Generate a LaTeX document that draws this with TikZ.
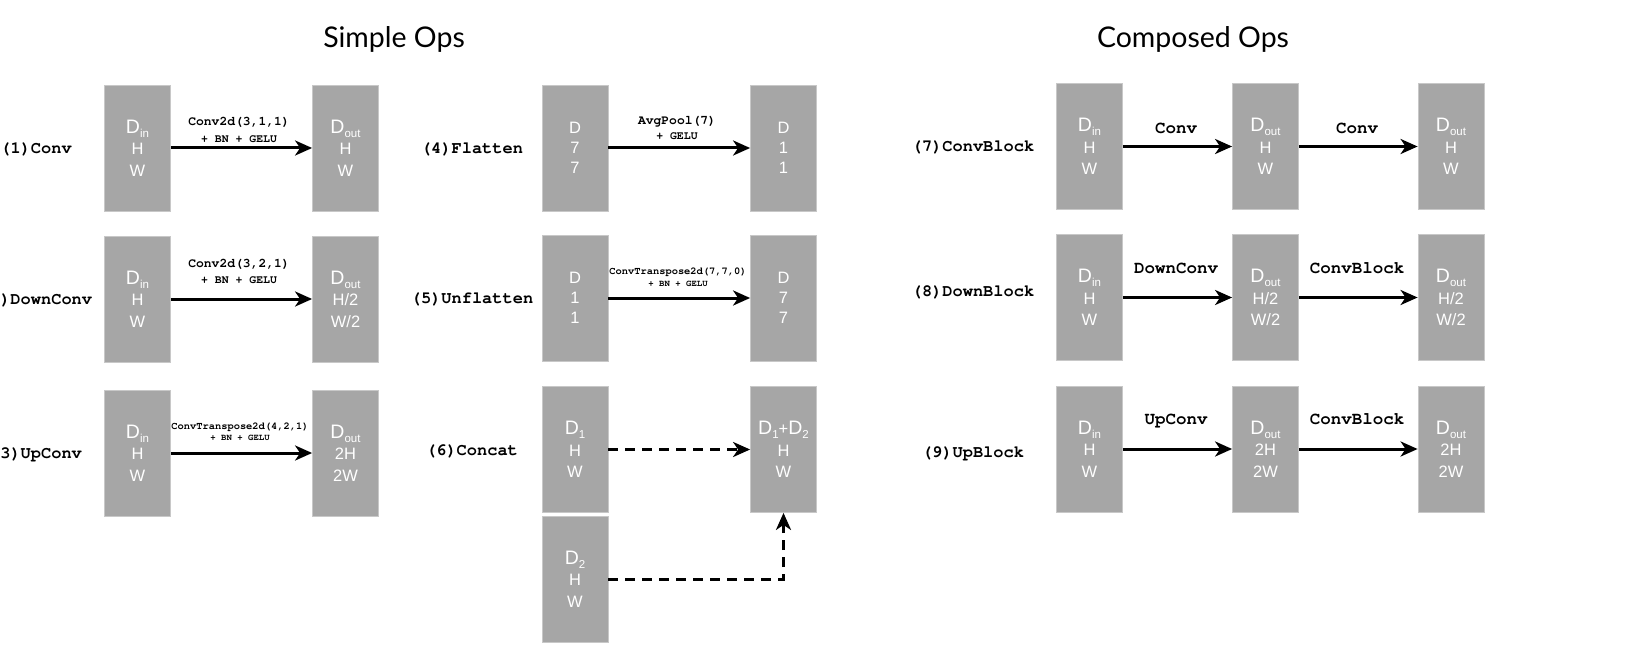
\documentclass[tikz,border=0pt]{standalone}
\usepackage[T1]{fontenc}
\usepackage{fontspec}
\setmainfont{Liberation Sans}
\newfontfamily\titlefont{Lato}
\usetikzlibrary{arrows.meta}
\definecolor{boxgray}{RGB}{166,166,166}
\definecolor{boxedge}{RGB}{200,200,200}
\newcommand\cour[2]{\fontencoding{T1}\fontfamily{pcr}\fontseries{b}\fontshape{n}\fontsize{#1}{#2}\selectfont}
\newcommand\Dsub[1]{{\fontsize{19.5}{19.5}\selectfont D}\raisebox{-4pt}{\fontsize{11.5}{11.5}\selectfont #1}}
\tikzset{
  tensor/.style={rectangle, fill=boxgray, draw=boxedge, line width=0.8pt,
    minimum width=66pt, minimum height=126pt, inner sep=0pt, text=white,
    align=center, font=\fontsize{16.5}{21.5}\selectfont},
  tensorplain/.style={tensor, font=\fontsize{16.5}{20}\selectfont},
  oplabel/.style={anchor=base, font=\cour{17}{17}, inner sep=0pt},
  arrlabel/.style={anchor=base, font=\cour{17.5}{17.5}, inner sep=0pt},
  twolbl/.style={anchor=south, align=center, inner sep=0pt},
  conn/.style={-{Stealth[length=17pt,width=15pt,inset=5pt]}, line width=3pt},
  dconn/.style={conn, dash pattern=on 10pt off 7pt},
  title/.style={anchor=base, font=\titlefont\fontsize{28.5}{30}\selectfont, inner sep=0pt},
}
\begin{document}
\begin{tikzpicture}[x=1pt, y=-1pt]
\useasboundingbox (0,0) rectangle (1648,660);
\fill[white] (0,0) rectangle (1648,660);

% titles
\node[title] (t1) at (394,48) {Simple Ops};
\node[title] (t2) at (1193,48) {Composed Ops};

% ---------- column 1 ----------
\node[tensor] (a1) at (137.5,148) {\Dsub{in}\\H\\W};
\node[tensor] (b1) at (345.5,148) {\Dsub{out}\\H\\W};
\node[tensor] (a2) at (137.5,299) {\Dsub{in}\\H\\W};
\node[tensor] (b2) at (345.5,299) {\Dsub{out}\\H/2\\W/2};
\node[tensor] (a3) at (137.5,453) {\Dsub{in}\\H\\W};
\node[tensor] (b3) at (345.5,453) {\Dsub{out}\\2H\\2W};

\node[oplabel] (l1) at (36,154) {(1)Conv};
\node[oplabel] (l2) at (36,304) {(2)DownConv};
\node[oplabel] (l3) at (36,458) {(3)UpConv};

\draw[conn] (a1) -- (b1);
\draw[conn] (a2) -- (b2);
\draw[conn] (a3) -- (b3);

\node[twolbl, font=\cour{11.5}{17}] (k1) at (239,143) {{\cour{13}{17}Conv2d(3,1,1)}\\+ BN + GELU};
\node[twolbl, font=\cour{11.5}{16}] (k2) at (239,284) {{\cour{13}{16}Conv2d(3,2,1)}\\+ BN + GELU};
\node[twolbl, font=\cour{9}{11}] (k3) at (240,441) {{\cour{10.4}{11}ConvTranspose2d(4,2,1)}\\+ BN + GELU};

% ---------- column 2 ----------
\node[tensorplain] (c4) at (575,148) {D\\7\\7};
\node[tensorplain] (d4) at (783.5,148) {D\\1\\1};
\node[tensorplain] (c5) at (575,298) {D\\1\\1};
\node[tensorplain] (d5) at (783.5,298) {D\\7\\7};
\node[tensor] (c6a) at (575,449.5) {\Dsub{1}\\H\\W};
\node[tensor] (c6b) at (575,579) {\Dsub{2}\\H\\W};
\node[tensor] (d6) at (783.5,449.5) {\Dsub{1}+\Dsub{2}\\H\\W};

\node[oplabel] (l4) at (472,154) {(4)Flatten};
\node[oplabel] (l5) at (472,303) {(5)Unflatten};
\node[oplabel] (l6) at (472,455) {(6)Concat};

\draw[conn] (c4) -- (d4);
\draw[conn] (c5) -- (d5);
\draw[dconn] (c6a) -- (d6);
\draw[dconn] (c6b) -| (d6);

\node[twolbl, font=\cour{11.5}{15}] (k4) at (677,140) {{\cour{13}{15}AvgPool(7)}\\+ GELU};
\node[twolbl, font=\cour{9}{12}] (k5) at (678,287) {{\cour{10.4}{12}ConvTranspose2d(7,7,0)}\\+ BN + GELU};

% ---------- column 3 ----------
\node[tensor] (e7) at (1089.5,146.5) {\Dsub{in}\\H\\W};
\node[tensor] (f7) at (1265.5,146.5) {\Dsub{out}\\H\\W};
\node[tensor] (g7) at (1451,146.5) {\Dsub{out}\\H\\W};
\node[tensor] (e8) at (1089.5,297.5) {\Dsub{in}\\H\\W};
\node[tensor] (f8) at (1265.5,297.5) {\Dsub{out}\\H/2\\W/2};
\node[tensor] (g8) at (1451,297.5) {\Dsub{out}\\H/2\\W/2};
\node[tensor] (e9) at (1089.5,449) {\Dsub{in}\\H\\W};
\node[tensor] (f9) at (1265.5,449) {\Dsub{out}\\2H\\2W};
\node[tensor] (g9) at (1451,449) {\Dsub{out}\\2H\\2W};

\node[oplabel] (l7) at (973,152) {(7)ConvBlock};
\node[oplabel] (l8) at (973,296) {(8)DownBlock};
\node[oplabel] (l9) at (973,457) {(9)UpBlock};

\draw[conn] (e7) -- (f7);
\draw[conn] (f7) -- (g7);
\draw[conn] (e8) -- (f8);
\draw[conn] (f8) -- (g8);
\draw[conn] (e9) -- (f9);
\draw[conn] (f9) -- (g9);

\node[arrlabel] (m7a) at (1176,134) {Conv};
\node[arrlabel] (m7b) at (1357,134) {Conv};
\node[arrlabel] (m8a) at (1176,273) {DownConv};
\node[arrlabel] (m8b) at (1357,273) {ConvBlock};
\node[arrlabel] (m9a) at (1176,424) {UpConv};
\node[arrlabel] (m9b) at (1357,424) {ConvBlock};
\end{tikzpicture}
\end{document}
